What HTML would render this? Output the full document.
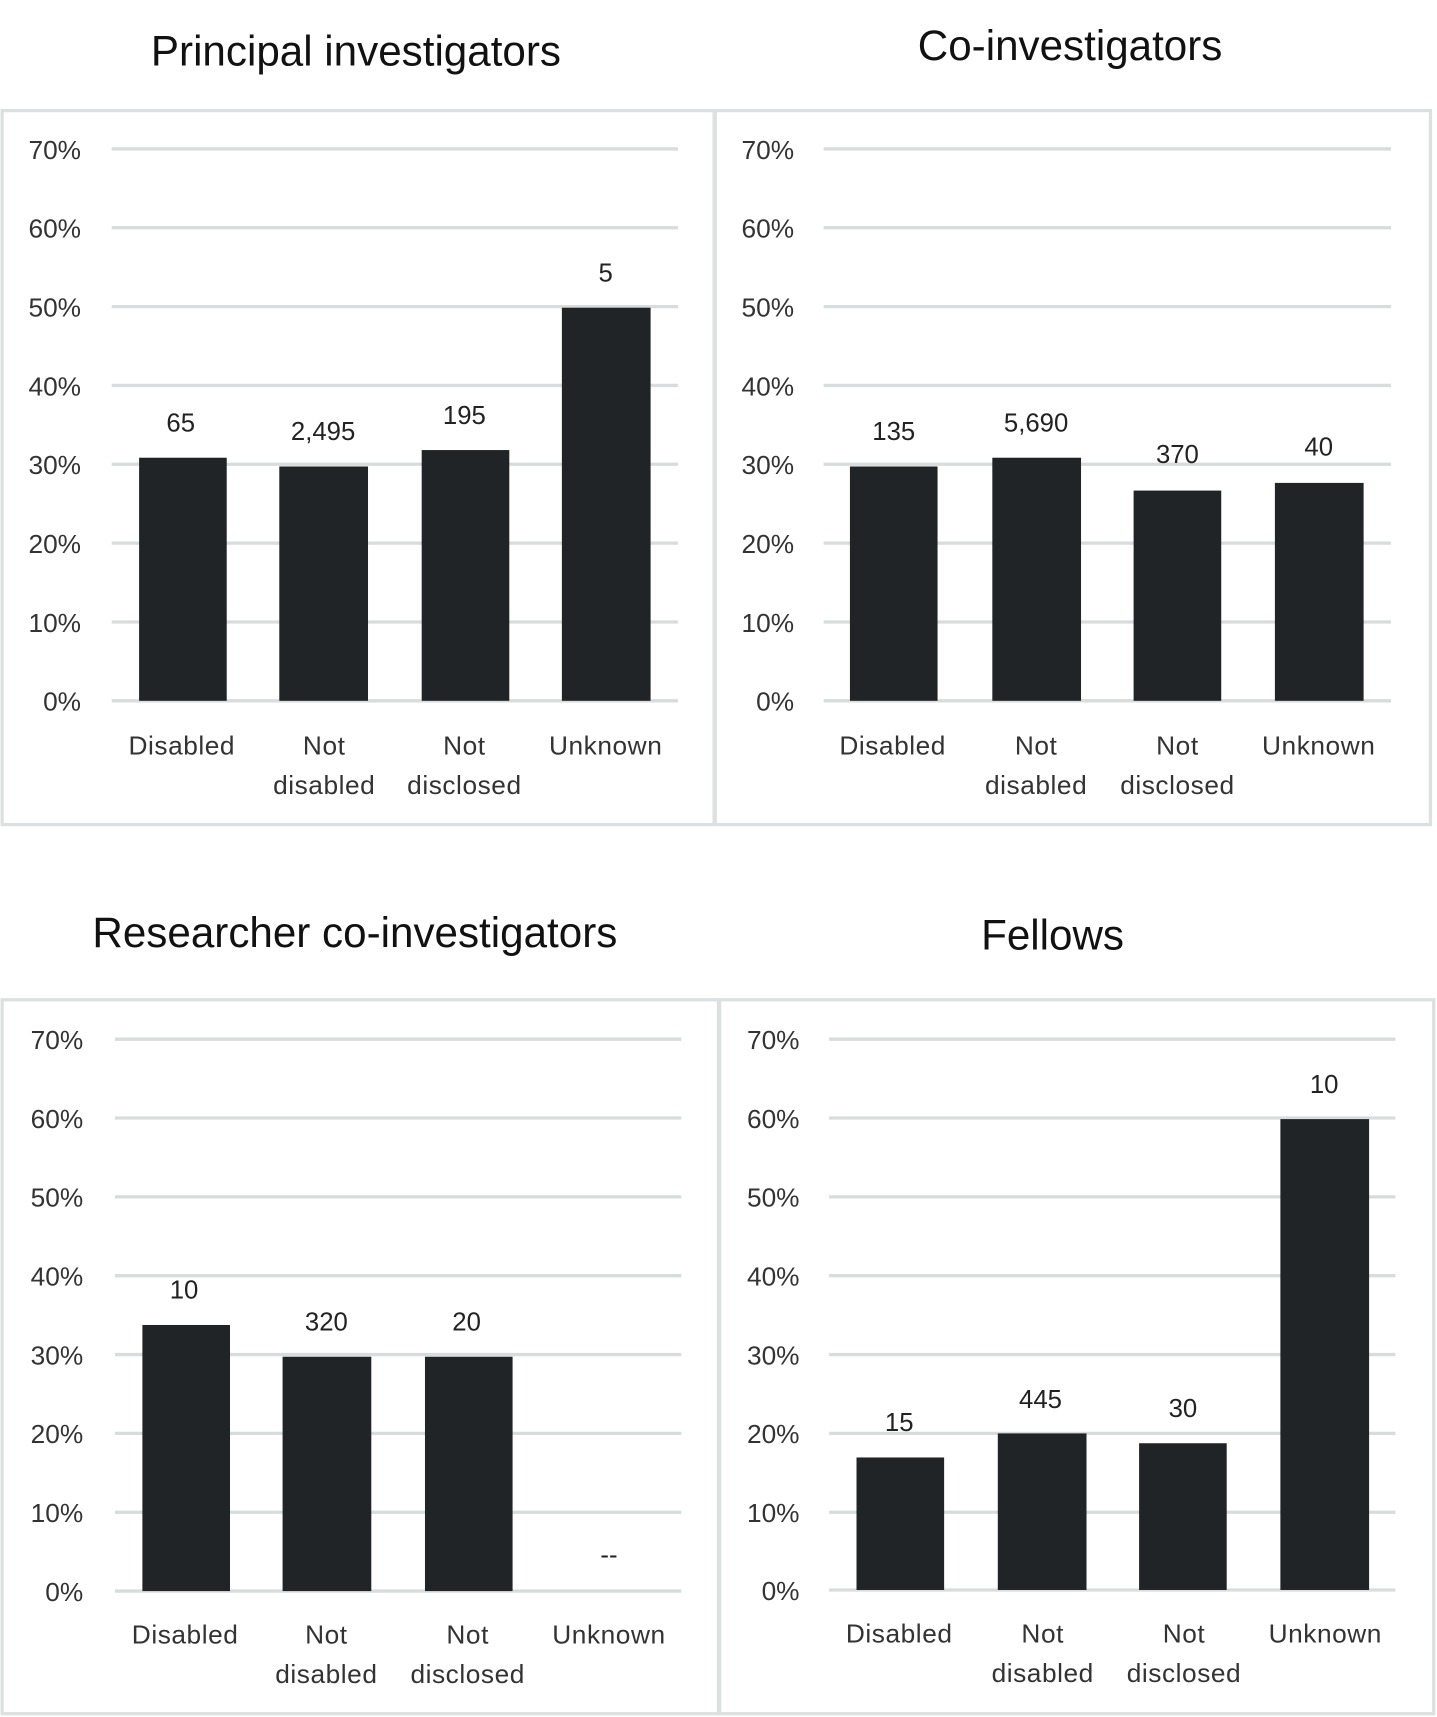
<!DOCTYPE html>
<html><head><meta charset="utf-8"><style>
html,body{margin:0;padding:0;background:#fff;}
svg{display:block;}
text{font-family:"Liberation Sans",sans-serif;fill:#222;}
.t{font-size:38.5px;text-anchor:middle;fill:#111;}
.y{font-size:24px;text-anchor:end;fill:#333;}
.c{font-size:24px;text-anchor:middle;fill:#333;letter-spacing:0.5px;}
.d{font-size:23.5px;text-anchor:middle;fill:#222;}
.g{stroke:#d9dcdc;stroke-width:3;}
.b{fill:#212427;}
.box{fill:none;stroke:#dde0e0;stroke-width:3;}
</style></head><body>
<svg width="1437" height="1717" viewBox="0 0 1312 1568" preserveAspectRatio="none" xmlns="http://www.w3.org/2000/svg">
<!-- Panel 1 -->
<text class="t" x="325" y="60">Principal investigators</text>
<rect class="box" x="2" y="101" width="650" height="652"/>
<g>
<line class="g" x1="102" x2="619" y1="136" y2="136"/><line class="g" x1="102" x2="619" y1="208" y2="208"/><line class="g" x1="102" x2="619" y1="280" y2="280"/><line class="g" x1="102" x2="619" y1="352" y2="352"/><line class="g" x1="102" x2="619" y1="424" y2="424"/><line class="g" x1="102" x2="619" y1="496" y2="496"/><line class="g" x1="102" x2="619" y1="568" y2="568"/><line class="g" x1="102" x2="619" y1="640" y2="640"/>
<text class="y" x="74" y="145">70%</text><text class="y" x="74" y="217">60%</text><text class="y" x="74" y="289">50%</text><text class="y" x="74" y="361">40%</text><text class="y" x="74" y="433">30%</text><text class="y" x="74" y="505">20%</text><text class="y" x="74" y="577">10%</text><text class="y" x="74" y="649">0%</text>
<rect class="b" x="127" y="418" width="80" height="222"/><rect class="b" x="255" y="426" width="81" height="214"/><rect class="b" x="385" y="411" width="80" height="229"/><rect class="b" x="513" y="281" width="81" height="359"/>
<text class="d" x="165" y="394">65</text><text class="d" x="295" y="402">2,495</text><text class="d" x="424" y="387">195</text><text class="d" x="553" y="257">5</text>
<text class="c" x="166" y="689">Disabled</text><text class="c" x="296" y="689">Not</text><text class="c" x="296" y="725">disabled</text><text class="c" x="424" y="689">Not</text><text class="c" x="424" y="725">disclosed</text><text class="c" x="553" y="689">Unknown</text>
</g>
<!-- Panel 2 -->
<text class="t" x="977" y="55">Co-investigators</text>
<rect class="box" x="653" y="101" width="653" height="652"/>
<g>
<line class="g" x1="752" x2="1270" y1="136" y2="136"/><line class="g" x1="752" x2="1270" y1="208" y2="208"/><line class="g" x1="752" x2="1270" y1="280" y2="280"/><line class="g" x1="752" x2="1270" y1="352" y2="352"/><line class="g" x1="752" x2="1270" y1="424" y2="424"/><line class="g" x1="752" x2="1270" y1="496" y2="496"/><line class="g" x1="752" x2="1270" y1="568" y2="568"/><line class="g" x1="752" x2="1270" y1="640" y2="640"/>
<text class="y" x="725" y="145">70%</text><text class="y" x="725" y="217">60%</text><text class="y" x="725" y="289">50%</text><text class="y" x="725" y="361">40%</text><text class="y" x="725" y="433">30%</text><text class="y" x="725" y="505">20%</text><text class="y" x="725" y="577">10%</text><text class="y" x="725" y="649">0%</text>
<rect class="b" x="776" y="426" width="80" height="214"/><rect class="b" x="906" y="418" width="81" height="222"/><rect class="b" x="1035" y="448" width="80" height="192"/><rect class="b" x="1164" y="441" width="81" height="199"/>
<text class="d" x="816" y="402">135</text><text class="d" x="946" y="394">5,690</text><text class="d" x="1075" y="423">370</text><text class="d" x="1204" y="416">40</text>
<text class="c" x="815" y="689">Disabled</text><text class="c" x="946" y="689">Not</text><text class="c" x="946" y="725">disabled</text><text class="c" x="1075" y="689">Not</text><text class="c" x="1075" y="725">disclosed</text><text class="c" x="1204" y="689">Unknown</text>
</g>
<!-- Panel 3 -->
<text class="t" x="324" y="865">Researcher co-investigators</text>
<rect class="box" x="2" y="913" width="654" height="652"/>
<g>
<line class="g" x1="105" x2="622" y1="949" y2="949"/><line class="g" x1="105" x2="622" y1="1021" y2="1021"/><line class="g" x1="105" x2="622" y1="1093" y2="1093"/><line class="g" x1="105" x2="622" y1="1165" y2="1165"/><line class="g" x1="105" x2="622" y1="1237" y2="1237"/><line class="g" x1="105" x2="622" y1="1309" y2="1309"/><line class="g" x1="105" x2="622" y1="1381" y2="1381"/><line class="g" x1="105" x2="622" y1="1453" y2="1453"/>
<text class="y" x="76" y="958">70%</text><text class="y" x="76" y="1030">60%</text><text class="y" x="76" y="1102">50%</text><text class="y" x="76" y="1174">40%</text><text class="y" x="76" y="1246">30%</text><text class="y" x="76" y="1318">20%</text><text class="y" x="76" y="1390">10%</text><text class="y" x="76" y="1462">0%</text>
<rect class="b" x="130" y="1210" width="80" height="243"/><rect class="b" x="258" y="1239" width="81" height="214"/><rect class="b" x="388" y="1239" width="80" height="214"/>
<text class="d" x="168" y="1186">10</text><text class="d" x="298" y="1215">320</text><text class="d" x="426" y="1215">20</text><text class="d" x="556" y="1428">--</text>
<text class="c" x="169" y="1501">Disabled</text><text class="c" x="298" y="1501">Not</text><text class="c" x="298" y="1537">disabled</text><text class="c" x="427" y="1501">Not</text><text class="c" x="427" y="1537">disclosed</text><text class="c" x="556" y="1501">Unknown</text>
</g>
<!-- Panel 4 -->
<text class="t" x="961" y="867">Fellows</text>
<rect class="box" x="657" y="913" width="652" height="652"/>
<g>
<line class="g" x1="757" x2="1274" y1="949" y2="949"/><line class="g" x1="757" x2="1274" y1="1021" y2="1021"/><line class="g" x1="757" x2="1274" y1="1093" y2="1093"/><line class="g" x1="757" x2="1274" y1="1165" y2="1165"/><line class="g" x1="757" x2="1274" y1="1237" y2="1237"/><line class="g" x1="757" x2="1274" y1="1309" y2="1309"/><line class="g" x1="757" x2="1274" y1="1381" y2="1381"/><line class="g" x1="757" x2="1274" y1="1452" y2="1452"/>
<text class="y" x="730" y="958">70%</text><text class="y" x="730" y="1030">60%</text><text class="y" x="730" y="1102">50%</text><text class="y" x="730" y="1174">40%</text><text class="y" x="730" y="1246">30%</text><text class="y" x="730" y="1318">20%</text><text class="y" x="730" y="1390">10%</text><text class="y" x="730" y="1461">0%</text>
<rect class="b" x="782" y="1331" width="80" height="121"/><rect class="b" x="911" y="1309" width="81" height="143"/><rect class="b" x="1040" y="1318" width="80" height="134"/><rect class="b" x="1169" y="1022" width="81" height="430"/>
<text class="d" x="821" y="1307">15</text><text class="d" x="950" y="1286">445</text><text class="d" x="1080" y="1294">30</text><text class="d" x="1209" y="998">10</text>
<text class="c" x="821" y="1500">Disabled</text><text class="c" x="952" y="1500">Not</text><text class="c" x="952" y="1536">disabled</text><text class="c" x="1081" y="1500">Not</text><text class="c" x="1081" y="1536">disclosed</text><text class="c" x="1210" y="1500">Unknown</text>
</g>
</svg>
</body></html>
